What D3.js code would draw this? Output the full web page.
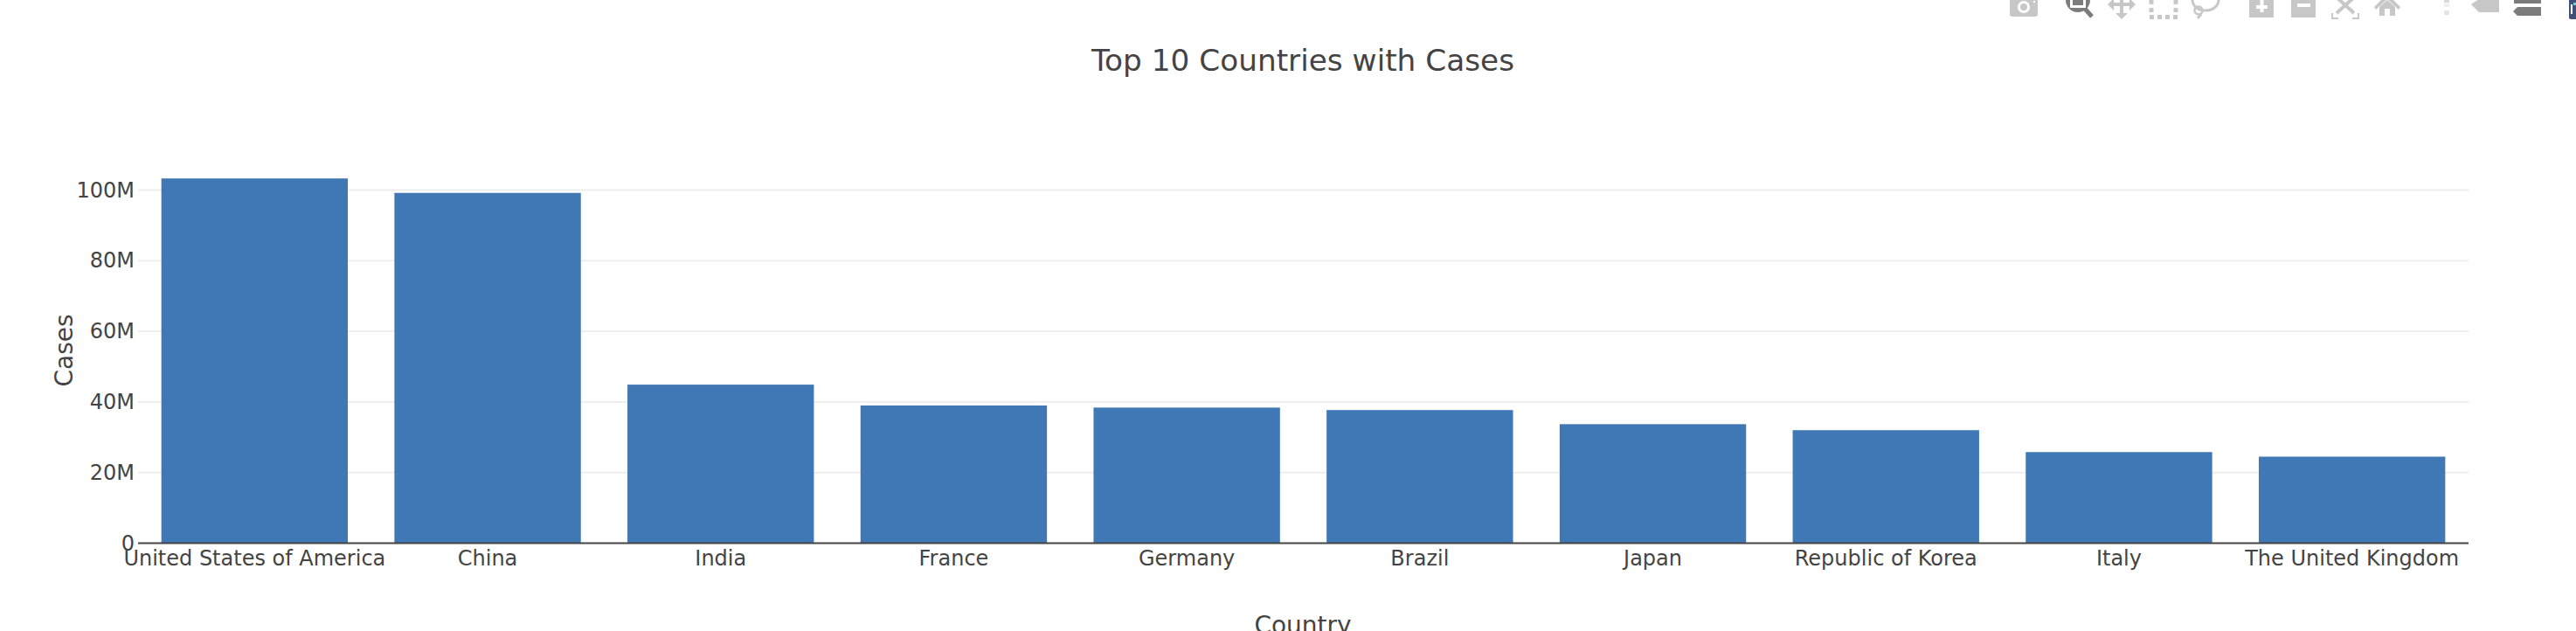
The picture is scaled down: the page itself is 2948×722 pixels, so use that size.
<!DOCTYPE html>
<html>
<head>
<meta charset="utf-8">
<script src="https://d3js.org/d3.v7.min.js"></script>
<style>
    html, body { margin: 0; background: #fff; }
    svg { display: block; font-family: "DejaVu Sans", Verdana, sans-serif; }
    .grid line { stroke: #eee; stroke-width: 2; }
    .axis text { fill: #444; font-size: 24px; font-family: "DejaVu Sans", Verdana, sans-serif; }
    .label { fill: #444; }
</style>
</head>
<body>
<svg></svg>
<script>
const countries = ["United States of America", "China", "India", "France", "Germany",
    "Brazil", "Japan", "Republic of Korea", "Italy", "The United Kingdom"];
const cases = [103.3e6, 99.2e6, 44.9e6, 39.0e6, 38.4e6, 37.7e6, 33.7e6, 32.0e6, 25.8e6, 24.5e6];
const yTicks = [0, 20e6, 40e6, 60e6, 80e6, 100e6];

const width = 2948, height = 722;
const left = 158, right = 2825, zeroY = 621.5, perMillion = 4.04;

const svg = d3.select("svg").attr("width", width).attr("height", height);

const x = d3.scaleBand().domain(countries).range([left, right]).paddingInner(0.2).paddingOuter(0.1);
const y = d3.scaleLinear().domain([0, 100e6]).range([zeroY, zeroY - 100 * perMillion]);

// grid first, bars go over it
svg.append("g").attr("class", "grid")
    .selectAll("line")
    .data(yTicks.filter(d => d > 0))
    .enter().append("line")
    .attr("x1", left).attr("x2", right)
    .attr("y1", d => y(d)).attr("y2", d => y(d));

svg.append("g")
    .selectAll("rect")
    .data(countries)
    .enter().append("rect")
    .attr("x", d => x(d))
    .attr("width", x.bandwidth())
    .attr("y", (d, i) => y(cases[i]))
    .attr("height", (d, i) => y(0) - y(cases[i]))
    .attr("fill", "#4078b6");

const yAxis = svg.append("g").attr("class", "axis")
    .attr("transform", `translate(${left},0)`)
    .call(d3.axisLeft(y).tickValues(yTicks).tickSize(0).tickPadding(4)
        .tickFormat(d => d === 0 ? "0" : d / 1e6 + "M"));
yAxis.select(".domain").remove();

const xAxis = svg.append("g").attr("class", "axis")
    .attr("transform", `translate(0,${zeroY})`)
    .call(d3.axisBottom(x).tickSize(0).tickPadding(8));
xAxis.select(".domain").remove();

svg.append("line")
    .attr("x1", left).attr("x2", right)
    .attr("y1", zeroY).attr("y2", zeroY)
    .attr("stroke", "#444").attr("stroke-width", 2);

svg.append("text").attr("class", "label")
    .attr("x", 1491).attr("y", 81)
    .attr("text-anchor", "middle").attr("font-size", 34.3)
    .text("Top 10 Countries with Cases");

svg.append("text").attr("class", "label")
    .attr("transform", "translate(83,401) rotate(-90)")
    .attr("text-anchor", "middle").attr("font-size", 28)
    .text("Cases");

svg.append("text").attr("class", "label")
    .attr("x", 1491).attr("y", 725)
    .attr("text-anchor", "middle").attr("font-size", 28)
    .text("Country");

// modebar, scrolled off the top of the shot just like in the original
const grey = "#c7c7c7", dark = "#7c7c7c";
const bar = svg.append("g").attr("class", "modebar");

function box(px, py, w, h, fill, rx) {
    return bar.append("rect").attr("x", px).attr("y", py).attr("width", w).attr("height", h)
        .attr("fill", fill).attr("rx", rx || 0);
}
function shape(d, fill) {
    return bar.append("path").attr("d", d).attr("fill", fill);
}
function stroke(d, color, w) {
    return bar.append("path").attr("d", d).attr("fill", "none").attr("stroke", color).attr("stroke-width", w);
}

// camera
box(2300, -6, 32, 25, grey, 3);
bar.append("circle").attr("cx", 2316).attr("cy", 8).attr("r", 5.5)
    .attr("fill", grey).attr("stroke", "#fff").attr("stroke-width", 3);
box(2327, 1, 2, 2, "#fff");
// zoom, the active one
bar.append("circle").attr("cx", 2378).attr("cy", 0).attr("r", 14).attr("fill", dark);
box(2369, -6, 18, 15, "#fff");
box(2372, -6, 12, 12, dark);
stroke("M2386,10L2394,19", dark, 5);
// pan
stroke("M2416,5H2440M2428,-6V18", grey, 4);
shape("M2412,5L2419,-2V12ZM2444,5L2437,-2V12ZM2428,22L2421,15H2435Z", grey);
// box select
stroke("M2462,0V15M2490,0V15", grey, 5).attr("stroke-dasharray", "5 4");
stroke("M2460,19.5H2492", grey, 5).attr("stroke-dasharray", "5 4");
// lasso
bar.append("ellipse").attr("cx", 2524).attr("cy", 0).attr("rx", 15).attr("ry", 12)
    .attr("fill", "none").attr("stroke", grey).attr("stroke-width", 3);
bar.append("circle").attr("cx", 2516).attr("cy", 12).attr("r", 4.5)
    .attr("fill", "none").attr("stroke", grey).attr("stroke-width", 2.5);
stroke("M2519,16L2515,21", grey, 3);
// zoom in, zoom out
box(2574, -4, 28, 24, grey);
box(2582, 6, 13, 4, "#fff");
box(2586.5, 0, 4, 14, "#fff");
box(2622, -4, 28, 24, grey);
box(2629, 4, 15, 4, "#fff");
// autoscale
stroke("M2669,15V21H2676M2699,15V21H2692", grey, 2);
stroke("M2674,-3L2694,15M2694,-3L2674,15", grey, 4);
// home
shape("M2732,-7L2747,8L2745,11L2732,-1L2719,11L2717,8Z", grey);
shape("M2723,8L2732,0L2741,8V18H2735V10H2729V18H2723Z", grey);
// spikes
box(2797, 0, 6, 3, "#d8d8d8");
box(2797, 4, 6, 4, "#f0f0f0");
box(2797, 12, 6, 5, "#e4e4e4");
// compare closest, compare on x
shape("M2828,5L2837,-1H2860V14H2837Z", grey);
box(2877, 0, 31, 4, dark);
shape("M2876,13L2881,8H2908V18H2881Z", dark);
// plotly logo, mostly off the right edge
box(2940, -4, 12, 26, "#3f4f75", 2);
box(2942, 5, 2, 11, "#fff");
box(2945, 3, 3, 3, "#69d3d3");
</script>
</body>
</html>
